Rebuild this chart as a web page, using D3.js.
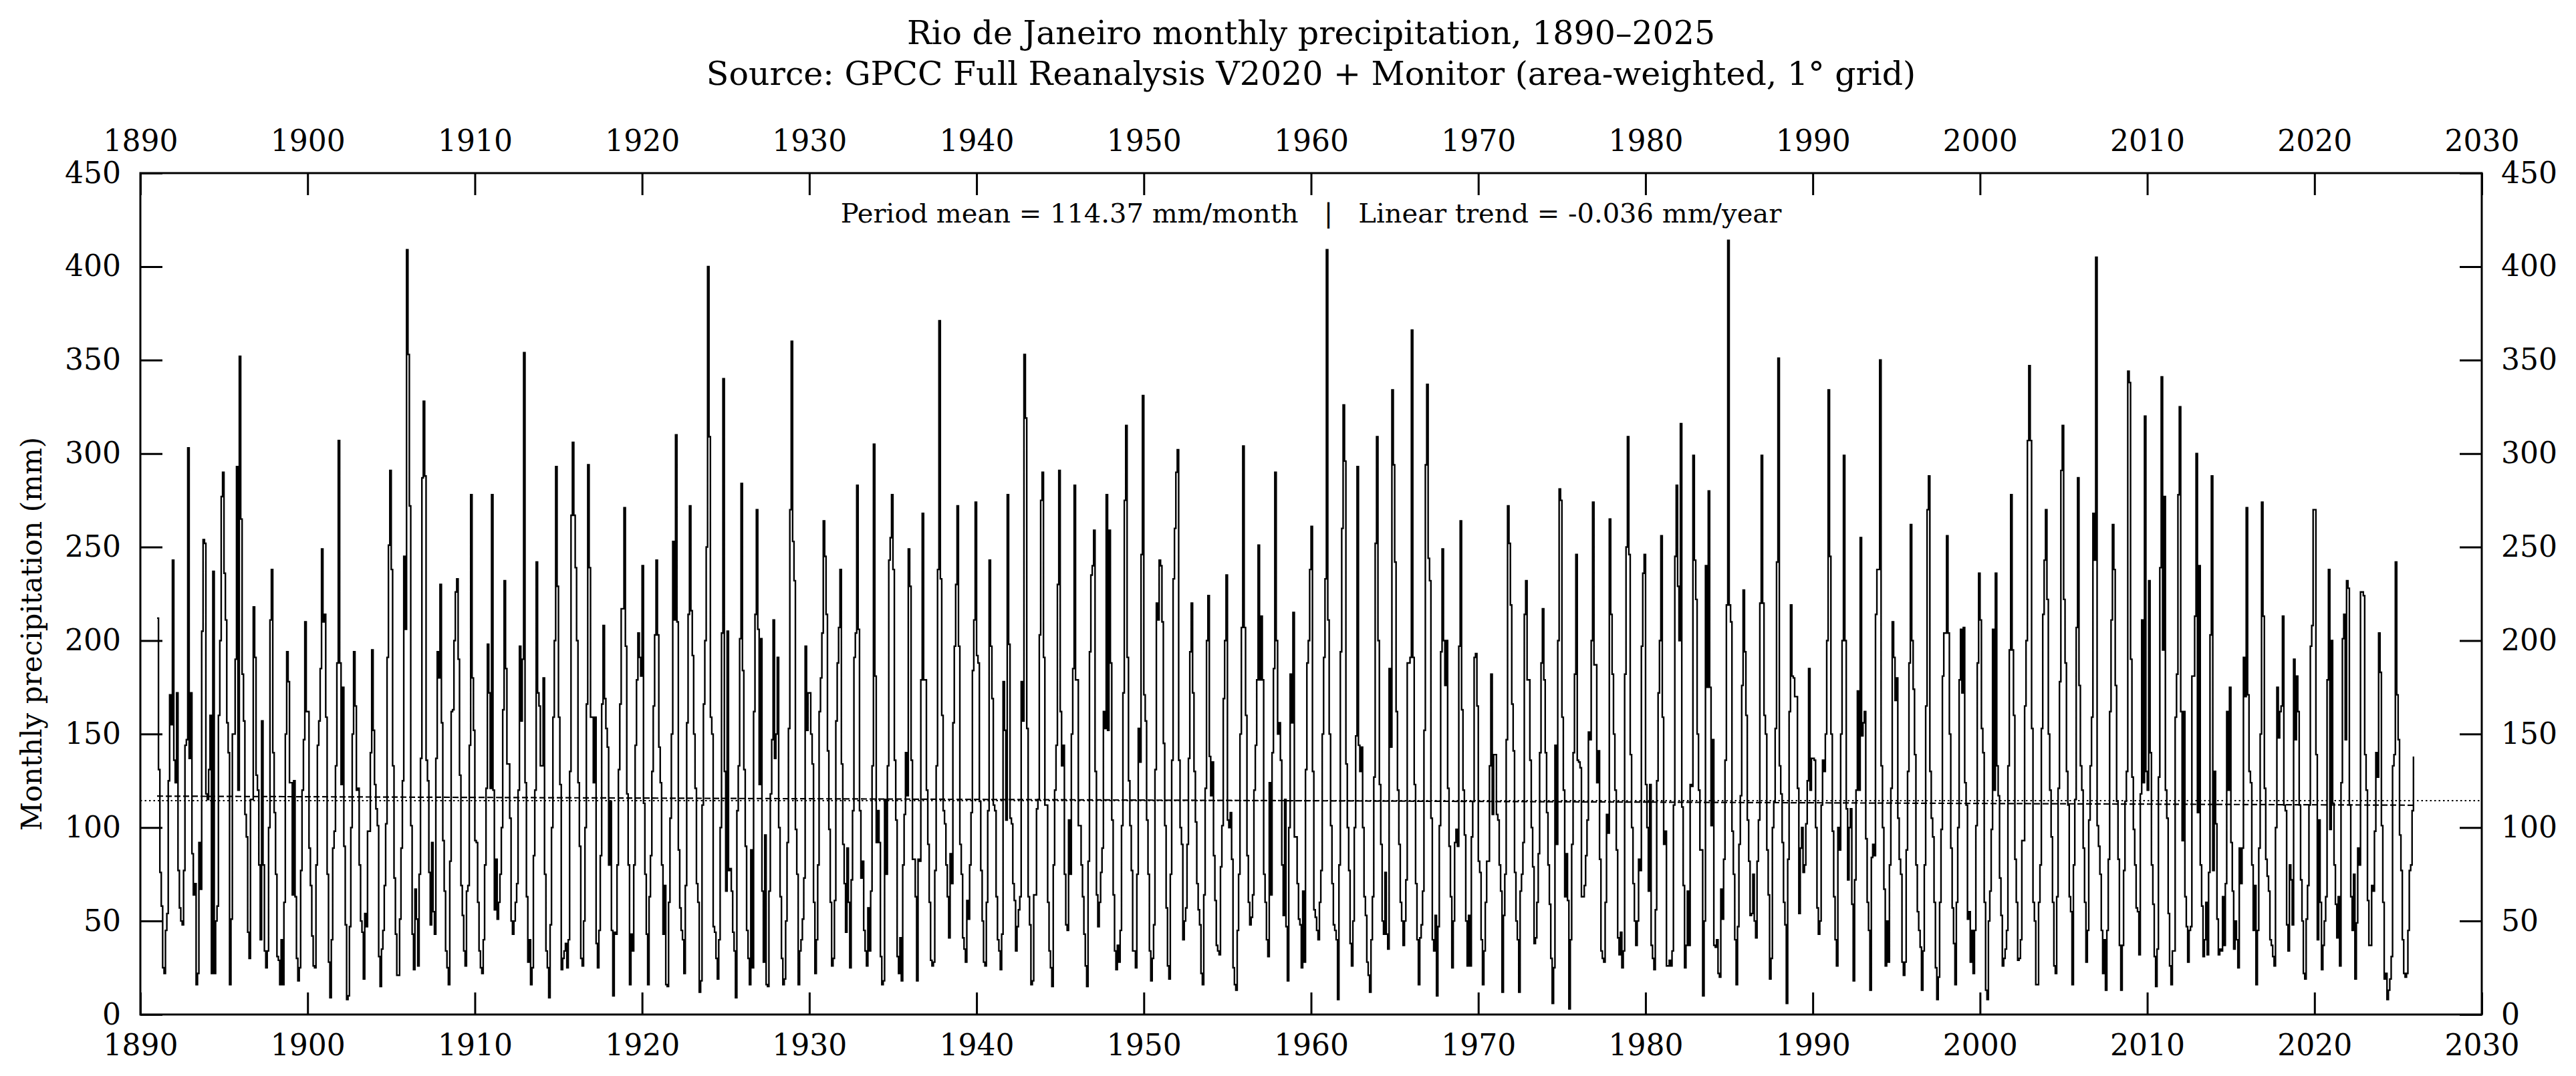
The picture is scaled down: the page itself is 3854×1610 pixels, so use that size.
<!DOCTYPE html>
<meta charset="utf-8">
<script src="https://d3js.org/d3.v7.min.js"></script>
<style>
  body { margin: 0; background: #fff; }
  text { font-family: "DejaVu Serif", serif; fill: #000; }
  .note { white-space: pre; }
</style>
<body>
<div id="chart"></div>
<script>
// Monthly precipitation (mm), Jan..Dec, one row per year
var firstYear = 1891;

var rain1890s = [
  212,131,76,58,25,22,45,54,125,171,155,243,
  136,124,172,77,57,50,48,77,144,147,303,137,
  172,86,64,70,16,22,92,67,205,254,252,118,
  115,131,160,22,237,22,50,58,160,200,277,290,
  236,211,156,140,16,51,150,150,190,293,120,352,
  265,182,157,107,95,44,30,115,115,218,191,128,
  120,80,40,157,80,34,25,34,100,211,238,140,
  108,75,31,29,16,40,16,60,150,194,178,124,
  124,64,125,63,30,18,25,77,120,147,210,162
];
var rain1900s = [
  162,89,69,42,26,25,80,144,157,185,249,210,
  214,159,75,28,9,40,89,98,133,188,307,188,
  123,175,90,48,8,10,47,100,150,194,165,120,
  121,80,50,44,19,54,47,98,98,140,195,152,
  123,110,101,31,15,35,45,69,102,191,251,291,
  238,133,73,43,21,21,51,89,125,245,206,409,
  353,272,101,43,24,67,51,26,75,137,287,328,
  288,136,125,76,48,92,55,43,137,194,180,230,
  156,93,66,34,25,16,82,162,163,200,226,233,
  190,128,69,53,34,26,66,69,144,278,180,152
];
var rain1910s = [
  93,92,60,34,25,22,40,80,121,198,172,121,
  278,120,56,83,51,60,75,100,163,232,185,134,
  134,105,50,43,50,60,70,120,197,157,190,354,
  124,63,28,40,16,25,85,120,242,172,165,133,
  133,180,75,34,25,9,48,100,159,200,293,229,
  159,123,24,30,34,38,25,40,130,267,306,267,
  239,200,124,90,30,26,50,100,166,294,239,159,
  159,124,159,38,25,45,85,166,208,169,153,143,
  80,114,45,10,44,43,80,131,166,217,217,271,
  197,118,80,16,43,34,80,144,179,204,191,181
];
var rain1920s = [
  240,113,75,43,16,63,85,130,165,203,243,203,
  143,124,80,43,69,16,15,60,105,150,253,211,
  310,210,88,57,45,40,22,69,156,214,272,216,
  192,150,121,70,60,12,18,112,166,200,250,400,
  309,159,150,47,44,30,19,40,100,204,340,130,
  66,205,77,78,66,44,34,9,109,133,201,284,
  184,131,90,45,30,16,88,25,162,214,270,206,
  123,201,66,28,96,16,15,66,118,147,211,137,
  150,191,100,63,30,16,19,50,92,153,270,360,
  253,232,99,75,16,34,40,51,73,197,152,172
];
var rain1930s = [
  172,150,134,60,22,40,80,162,180,204,264,245,
  214,141,99,60,26,30,61,157,188,207,238,134,
  91,70,44,89,60,25,72,109,191,204,283,206,
  109,73,82,45,34,26,57,34,66,133,305,181,
  92,109,92,31,16,18,115,75,133,243,255,278,
  238,136,104,31,22,41,18,80,107,140,117,249,
  229,136,83,83,63,18,83,82,179,268,179,179,
  120,91,60,29,26,28,77,133,238,371,233,160,
  109,102,80,63,41,86,70,156,197,230,272,197,
  91,75,41,35,28,61,51,80,108,184,211,274
];
var rain1940s = [
  192,188,114,77,50,28,26,60,109,243,197,169,
  112,109,63,40,34,24,43,178,152,104,278,198,
  105,102,70,61,34,47,56,63,178,157,353,319,
  153,63,48,16,18,64,64,110,115,203,275,290,
  191,112,112,60,34,25,15,80,120,144,230,291,
  162,133,144,75,48,45,104,75,150,185,283,179,
  179,101,101,80,63,43,26,15,82,194,235,240,
  259,130,64,47,60,76,89,162,153,278,152,259,
  188,104,64,34,24,37,28,45,101,172,275,315,
  191,125,101,77,34,34,25,75,153,135,246,331
];
var rain1950s = [
  171,157,104,75,34,18,30,48,131,220,211,243,
  240,210,145,101,57,26,19,75,136,233,260,290,
  302,136,100,91,40,50,57,91,137,194,220,172,
  130,103,70,56,48,22,16,64,121,200,224,138,
  117,135,85,61,37,34,32,79,101,169,200,235,
  104,100,108,83,25,16,13,45,75,150,207,304,
  207,160,85,60,48,52,64,120,144,179,251,179,
  213,179,75,60,40,31,124,64,140,185,290,200,
  150,156,136,80,53,115,47,18,100,182,156,215,
  95,95,70,51,48,25,66,28,131,188,200,238
];
var rain1960s = [
  261,130,56,52,45,40,60,77,150,191,233,409,
  211,150,101,70,48,45,40,8,80,194,260,326,
  296,134,100,77,38,26,50,100,149,293,144,130,
  143,100,63,53,28,21,12,40,63,127,252,309,
  200,123,91,50,43,76,43,35,185,143,334,294,
  242,162,120,91,60,50,37,50,72,188,188,191,
  366,191,123,70,40,16,41,48,66,152,294,337,
  244,232,105,40,34,53,10,47,101,194,249,200,
  176,200,121,90,63,25,50,92,99,90,197,264,
  163,120,96,50,26,53,26,95,114,191,193,165
];
var rain1970s = [
  82,76,40,16,34,60,82,82,133,182,107,139,
  139,107,104,80,66,12,53,75,147,272,252,219,
  166,141,76,50,40,12,66,75,92,214,232,179,
  179,136,100,79,38,41,60,86,140,188,217,179,
  140,108,80,59,30,6,25,144,91,200,281,275,
  159,120,63,86,61,3,40,91,140,182,246,136,
  135,132,63,63,69,85,104,151,147,200,274,187,
  187,124,141,83,34,30,28,60,107,97,265,214,
  182,150,120,88,41,32,44,25,34,182,250,309,
  246,139,100,70,50,37,50,83,77,197,236,246
];
var rain1980s = [
  123,100,66,123,37,30,24,56,125,172,200,256,
  159,91,98,26,26,29,26,34,112,245,283,229,
  200,316,111,69,25,37,66,37,123,122,299,243,
  222,150,120,88,88,10,50,240,175,280,175,101,
  147,37,36,40,22,20,67,51,83,136,219,414,
  219,210,98,75,40,16,47,91,117,176,227,194,
  160,104,82,53,54,75,50,41,82,104,220,299,
  220,160,150,88,64,19,30,100,114,153,242,351,
  133,118,92,60,48,6,83,162,219,181,180,170,
  170,121,54,89,100,76,80,102,125,185,120,137
];
var rain1990s = [
  137,136,100,57,43,50,112,136,130,150,200,334,
  245,150,98,63,40,26,100,88,150,200,299,200,
  110,72,100,110,59,18,72,120,173,120,255,149,
  156,162,94,60,45,13,84,91,85,214,238,238,
  350,133,100,67,26,50,28,80,121,210,191,168,
  180,105,83,75,28,21,28,88,130,188,262,200,
  174,139,80,55,45,36,13,34,80,165,270,288,
  130,105,95,60,25,8,20,60,99,181,204,204,
  256,204,150,89,57,38,16,60,100,179,206,172,
  207,124,112,51,55,28,45,22,45,101,188,236
];
var rain2000s = [
  211,153,140,60,13,8,50,66,99,206,120,236,
  133,117,73,53,26,30,35,45,133,195,278,195,
  160,83,60,29,30,40,93,93,165,200,307,347,
  307,153,60,50,16,16,60,80,153,214,243,270,
  222,150,120,95,60,26,22,63,121,178,291,315,
  222,188,130,112,63,55,16,80,115,207,287,176,
  133,120,89,60,28,45,104,133,159,268,243,405,
  101,90,75,45,22,40,13,45,83,162,211,262,
  238,176,114,83,37,13,37,77,114,130,344,338,
  190,127,99,80,57,55,32,118,211,124,320,130
];
var rain2010s = [
  120,232,140,80,59,31,15,35,127,239,341,195,
  277,120,105,54,26,16,34,34,159,182,278,325,
  162,93,162,63,47,28,45,47,181,181,213,300,
  108,240,80,58,31,40,60,32,76,203,288,77,
  130,102,51,32,35,34,63,37,70,162,120,175,
  92,66,35,50,40,25,89,70,89,191,170,271,
  171,130,124,80,45,69,16,45,89,150,274,213,
  121,83,74,66,40,37,31,26,100,175,148,162,
  165,213,112,109,48,34,80,72,48,190,147,181,
  162,112,72,50,22,19,51,69,112,197,208,270
];
var rain2020s = [
  270,139,40,104,60,24,37,50,63,179,238,99,
  200,113,80,59,41,63,26,124,201,214,147,232,
  228,112,63,45,75,19,49,89,80,226,226,224,
  139,120,61,37,37,69,66,98,140,127,204,183,
  101,60,19,22,8,13,19,31,133,139,242,171,
  147,96,77,40,22,20,22,45,77,80,109,138
];

var yearTicks = [1890, 1900, 1910, 1920, 1930, 1940, 1950, 1960, 1970, 1980, 1990, 2000, 2010, 2020, 2030];
var mmTicks = [0, 50, 100, 150, 200, 250, 300, 350, 400, 450];
var periodMean = 114.37;
var trendPerYear = -0.036;

var W = 3854, H = 1610;
var margin = { top: 259, right: 141, bottom: 92, left: 210 };
var plotW = W - margin.left - margin.right,
    plotH = H - margin.top - margin.bottom;

var monthly = [].concat(rain1890s, rain1900s, rain1910s, rain1920s, rain1930s, rain1940s,
  rain1950s, rain1960s, rain1970s, rain1980s, rain1990s, rain2000s, rain2010s, rain2020s)
  .map(function(v, i) { return { t: firstYear + i / 12, v: v }; });

var svg = d3.select("#chart").append("svg")
    .attr("width", W)
    .attr("height", H)
    .style("background", "#fff");

var g = svg.append("g")
    .attr("transform", "translate(" + margin.left + "," + margin.top + ")");

var x = d3.scaleLinear().domain([1890, 2030]).range([0, plotW]);
var y = d3.scaleLinear().domain([0, 450]).range([plotH, 0]);

// data line (steps)
var line = d3.line()
    .x(function(d) { return x(d.t); })
    .y(function(d) { return y(d.v); })
    .curve(d3.curveStepAfter);

g.append("path")
    .datum(monthly)
    .attr("d", line)
    .attr("fill", "none")
    .attr("stroke", "#000")
    .attr("stroke-width", 2.4);

// period mean (dotted, full width)
g.append("line")
    .attr("x1", 0).attr("x2", plotW)
    .attr("y1", y(periodMean)).attr("y2", y(periodMean))
    .attr("stroke", "#000")
    .attr("stroke-width", 2.2)
    .attr("stroke-dasharray", "2.5,4");

// linear trend (dashed, over the data range)
var t0 = monthly[0].t, t1 = monthly[monthly.length - 1].t, tMid = (t0 + t1) / 2;
g.append("line")
    .attr("x1", x(t0)).attr("x2", x(t1))
    .attr("y1", y(periodMean + trendPerYear * (t0 - tMid)))
    .attr("y2", y(periodMean + trendPerYear * (t1 - tMid)))
    .attr("stroke", "#000")
    .attr("stroke-width", 2.2)
    .attr("stroke-dasharray", "9,4");

// axes, ticks pointing inward on all four sides
var tickLen = 33, fs = "44px";
function styleAxis(sel) {
  sel.select(".domain").remove();
  sel.selectAll(".tick line").attr("stroke", "#000").attr("stroke-width", 3);
  sel.selectAll(".tick text").style("font-size", fs).style("font-family", "DejaVu Serif");
}

g.append("g")
    .attr("transform", "translate(0," + plotH + ")")
    .call(d3.axisBottom(x).tickValues(yearTicks).tickFormat(d3.format("d")).tickSize(-tickLen).tickPadding(30))
    .call(styleAxis);

g.append("g")
    .call(d3.axisTop(x).tickValues(yearTicks).tickFormat(d3.format("d")).tickSize(-tickLen).tickPadding(33))
    .call(styleAxis);

g.append("g")
    .call(d3.axisLeft(y).tickValues(mmTicks).tickSize(-tickLen).tickPadding(29))
    .call(styleAxis);

g.append("g")
    .attr("transform", "translate(" + plotW + ",0)")
    .call(d3.axisRight(y).tickValues(mmTicks).tickSize(-tickLen).tickPadding(29))
    .call(styleAxis);

// frame
g.append("rect")
    .attr("width", plotW)
    .attr("height", plotH)
    .attr("fill", "none")
    .attr("stroke", "#000")
    .attr("stroke-width", 3);

// annotation
g.append("text")
    .attr("class", "note")
    .attr("x", plotW / 2)
    .attr("y", 74)
    .attr("text-anchor", "middle")
    .style("font-size", "40px")
    .text("Period mean = 114.37 mm/month   |   Linear trend = -0.036 mm/year");

// y label
svg.append("text")
    .attr("transform", "translate(62," + (margin.top + plotH / 2 + 60) + ") rotate(-90)")
    .attr("text-anchor", "middle")
    .style("font-size", "42px")
    .text("Monthly precipitation (mm)");

// title
svg.append("text")
    .attr("x", margin.left + plotW / 2)
    .attr("y", 66)
    .attr("text-anchor", "middle")
    .style("font-size", "49px")
    .text("Rio de Janeiro monthly precipitation, 1890\u20132025");

svg.append("text")
    .attr("x", margin.left + plotW / 2)
    .attr("y", 127)
    .attr("text-anchor", "middle")
    .style("font-size", "49px")
    .text("Source: GPCC Full Reanalysis V2020 + Monitor (area-weighted, 1\u00b0 grid)");
</script>
</body>
